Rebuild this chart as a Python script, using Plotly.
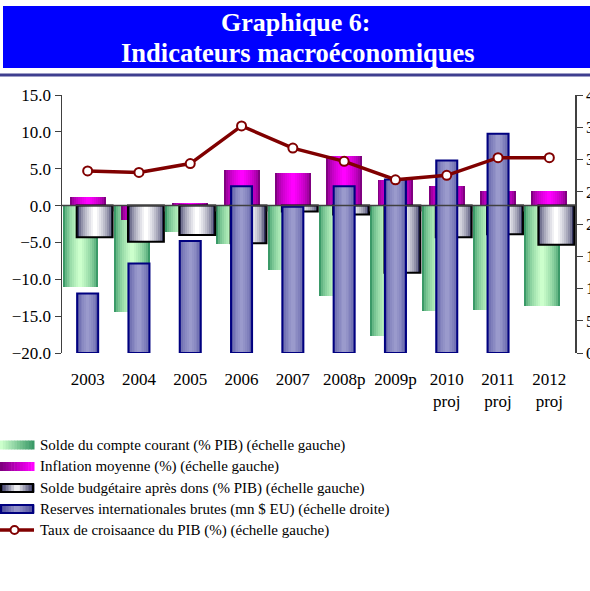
import plotly.graph_objects as go

# ---------------- data ----------------
categories = ["2003", "2004", "2005", "2006", "2007", "2008p", "2009p",
              "2010<br>proj", "2011<br>proj", "2012<br>proj"]
compte_courant = [-11.1, -14.4, -3.6, -5.2, -8.8, -12.3, -17.7, -14.3, -14.1, -13.6]
inflation = [1.2, -2.0, 0.4, 4.8, 4.4, 6.7, 3.5, 2.7, 2.0, 2.0]
solde_budgetaire = [-4.3, -4.9, -4.0, -5.1, -0.8, -1.2, -9.1, -4.3, -3.9, -5.3]
reserves = [923, 1389, 1736, 2586, 2269, 2586, 2689, 2984, 3399, None]
croissance = [4.7, 4.5, 5.7, 10.8, 7.8, 6.0, 3.5, 4.1, 6.5, 6.5]

legend_labels = [
    "Solde du compte courant (% PIB) (échelle gauche)",
    "Inflation moyenne (%) (échelle gauche)",
    "Solde budgétaire après dons (% PIB) (échelle gauche)",
    "Reserves internationales brutes (mn $ EU) (échelle droite)",
    "Taux de croisaance du PIB (%) (échelle gauche)",
]

FONT = "Liberation Serif"
W, H = 590, 591
L, R, T, B = 62, 575, 95, 353


def px(x):
    return (x - L) / (R - L)


def py(y):
    return (B - y) / (B - T)


def hex2rgb(h):
    h = h.lstrip("#")
    return tuple(int(h[i:i + 2], 16) for i in (0, 2, 4))


def mix(c1, c2, t):
    a, b = hex2rgb(c1), hex2rgb(c2)
    return "rgb(%d,%d,%d)" % tuple(round(a[i] + (b[i] - a[i]) * t) for i in range(3))


fig = go.Figure()


def grad_bars(values, width, center, edge, mid, n=9, yaxis="y", gamma=0.7, outline=None, lw=2):
    for k in range(n):
        wk = width * (1 - k / n)
        t = (k / (n - 1)) ** gamma
        fig.add_trace(go.Bar(
            x=categories, y=values, width=wk, offset=center - wk / 2,
            marker=dict(color=mix(edge, mid, t), line=dict(width=0)),
            yaxis=yaxis, showlegend=False, hoverinfo="skip"))
    if outline:
        fig.add_trace(go.Bar(
            x=categories, y=values, width=width, offset=center - width / 2,
            marker=dict(color="rgba(0,0,0,0)", line=dict(width=lw, color=outline)),
            yaxis=yaxis, showlegend=False, hoverinfo="skip"))


BW = 0.70
grad_bars(compte_courant, BW, -0.14, "#3b9a68", "#ccffcc", gamma=0.6)
grad_bars(inflation, BW, 0.0, "#800080", "#ff00ff", gamma=0.6)
grad_bars(solde_budgetaire, BW, 0.136, "#33335f", "#ffffff", gamma=0.55, outline="#000000", lw=2)
grad_bars(reserves, 0.41, 0.0, "#5c5ca6", "#9a9acc", n=6, yaxis="y2", gamma=0.6, outline="#000080", lw=2)

fig.add_trace(go.Scatter(
    x=categories, y=croissance, mode="lines+markers", yaxis="y3",
    line=dict(color="#800000", width=3.5),
    marker=dict(symbol="circle", size=9, color="white", line=dict(color="#800000", width=2)),
    showlegend=False, hoverinfo="skip"))

shapes = []
annotations = []

# title box
shapes.append(dict(type="rect", xref="paper", yref="paper", x0=px(3), x1=px(592),
                   y0=py(68), y1=py(6), fillcolor="#0000ff", line=dict(width=0), layer="above"))
shapes.append(dict(type="rect", xref="paper", yref="paper", x0=px(-2), x1=px(592),
                   y0=py(76.5), y1=py(73.5), fillcolor="#3f3f8f", line=dict(width=0), layer="above"))
annotations.append(dict(xref="paper", yref="paper", x=px(296), y=py(23), text="<b>Graphique 6:</b>",
                        showarrow=False, xanchor="center", yanchor="middle",
                        font=dict(family=FONT, size=26, color="white")))
annotations.append(dict(xref="paper", yref="paper", x=px(298), y=py(53),
                        text="<b>Indicateurs macroéconomiques</b>",
                        showarrow=False, xanchor="center", yanchor="middle",
                        font=dict(family=FONT, size=26.5, color="white")))

# zero line (category axis) drawn on top, with category boundary ticks
shapes.append(dict(type="line", xref="paper", yref="y", x0=0, x1=1, y0=0, y1=0,
                   line=dict(color="#404040", width=1.5), layer="above"))
for i in range(len(categories) - 1):
    shapes.append(dict(type="line", xref="x", yref="y", x0=i + 0.5, x1=i + 0.5, y0=0, y1=-0.8,
                       line=dict(color="#404040", width=1), layer="above"))

# manual legend
rows = [445, 466.5, 488, 509, 530]
sw0, sw1, sh = 0, 34, 4.5
grads = [("#ccffcc", "#3b9a68", None), ("#800080", "#ff00ff", None),
         ("#33335f", "#ffffff", "#000000"), ("#4a4a9a", "#9a9acc", "#000080")]
for j, (c1, c2, ol) in enumerate(grads):
    yc = rows[j]
    nsl = 12
    for s in range(nsl):
        xa = sw0 + (sw1 - sw0) * s / nsl
        xb = sw0 + (sw1 - sw0) * (s + 1) / nsl
        t = s / (nsl - 1)
        if j >= 2:
            t = 1 - abs(2 * t - 1)
        col = mix(c1, c2, t)
        shapes.append(dict(type="rect", xref="paper", yref="paper", x0=px(xa), x1=px(xb) + 0.001,
                           y0=py(yc + sh), y1=py(yc - sh), fillcolor=col, line=dict(width=0)))
    if ol:
        shapes.append(dict(type="rect", xref="paper", yref="paper", x0=px(sw0 + 1), x1=px(sw1 - 1),
                           y0=py(yc + sh - 0.5), y1=py(yc - sh + 0.5), fillcolor="rgba(0,0,0,0)",
                           line=dict(width=2, color=ol)))
yc = rows[4]
shapes.append(dict(type="line", xref="paper", yref="paper", x0=px(sw0), x1=px(sw1),
                   y0=py(yc), y1=py(yc), line=dict(color="#800000", width=3.5)))
shapes.append(dict(type="circle", xref="paper", yref="paper", x0=px(10.5), x1=px(18.5),
                   y0=py(yc + 4), y1=py(yc - 4), fillcolor="white", line=dict(color="#800000", width=2)))
for j, lab in enumerate(legend_labels):
    annotations.append(dict(xref="paper", yref="paper", x=px(38), y=py(rows[j]), text=lab,
                            showarrow=False, xanchor="left", yanchor="middle",
                            font=dict(family=FONT, size=15, color="black")))

fig.update_layout(
    width=W, height=H,
    margin=dict(l=L, r=W - R, t=T, b=H - B, pad=0, autoexpand=False),
    paper_bgcolor="white", plot_bgcolor="white",
    barmode="overlay", bargap=0,
    showlegend=False,
    hovermode=False,
    font=dict(family=FONT, size=17, color="black"),
    xaxis=dict(type="category", range=[-0.5, 9.5], showline=False, ticks="", showgrid=False,
               zeroline=False, automargin=False, tickfont=dict(family=FONT, size=17, color="black"),
               ticklabelstandoff=14),
    yaxis=dict(range=[-20, 15], dtick=5, tickformat=".1f", showgrid=False, zeroline=False,
               automargin=False,
               showline=True, linecolor="#404040", linewidth=1.5, ticks="outside", ticklen=6,
               tickcolor="#404040", tickfont=dict(family=FONT, size=17, color="black")),
    yaxis2=dict(range=[0, 4000], dtick=500, overlaying="y", side="right", showgrid=False,
                zeroline=False, automargin=False, showline=True, linecolor="#404040", linewidth=1.5,
                ticks="outside", ticklen=6, tickcolor="#404040",
                tickfont=dict(family=FONT, size=17, color="black")),
    yaxis3=dict(range=[-20, 15], overlaying="y", visible=False, automargin=False),
    shapes=shapes,
    annotations=annotations,
)

fig.write_html("out.html", config={"displayModeBar": False, "staticPlot": True},
               post_script="document.body.style.margin='0';document.body.style.overflow='hidden';")
